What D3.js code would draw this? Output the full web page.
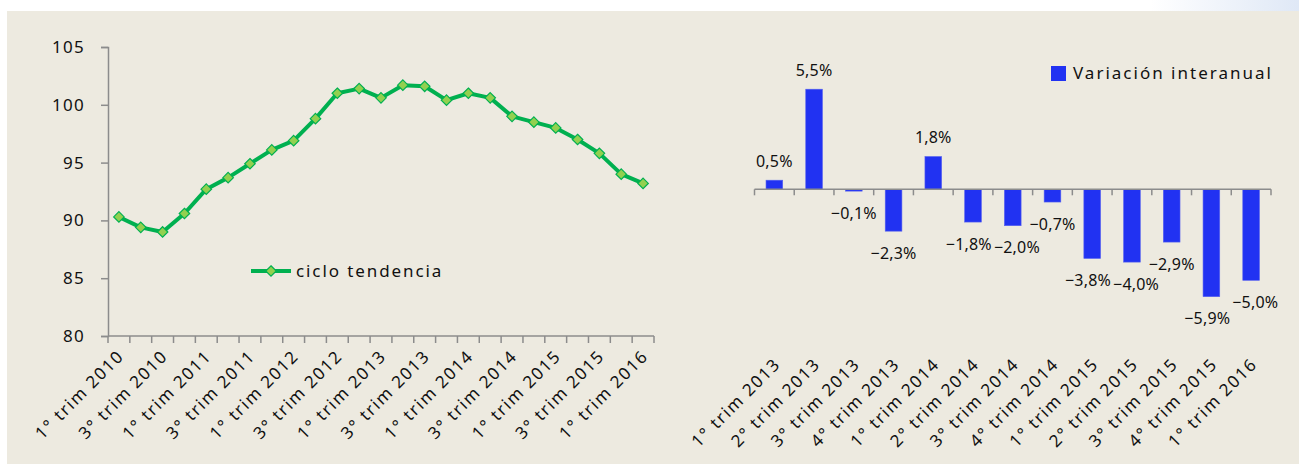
<!DOCTYPE html>
<html lang="es">
<head>
<meta charset="utf-8">
<title>Ciclo tendencia y variación interanual</title>
<script src="https://cdn.jsdelivr.net/npm/d3@7"></script>
<style>
  html, body { margin: 0; padding: 0; background: #fff; overflow: hidden; }
  svg text { font-family: "Noto Sans", sans-serif; fill: #111; }
</style>
</head>
<body>
<svg id="chart" width="1299" height="464"></svg>
<script>
// left chart: índice ciclo tendencia
const trendQuarters = [
  "1° trim 2010", "2° trim 2010", "3° trim 2010", "4° trim 2010",
  "1° trim 2011", "2° trim 2011", "3° trim 2011", "4° trim 2011",
  "1° trim 2012", "2° trim 2012", "3° trim 2012", "4° trim 2012",
  "1° trim 2013", "2° trim 2013", "3° trim 2013", "4° trim 2013",
  "1° trim 2014", "2° trim 2014", "3° trim 2014", "4° trim 2014",
  "1° trim 2015", "2° trim 2015", "3° trim 2015", "4° trim 2015",
  "1° trim 2016"
];
const trendValues = [
  90.3, 89.4, 89.0, 90.6, 92.7, 93.7, 94.9, 96.1, 96.9, 98.8,
  101.0, 101.4, 100.6, 101.7, 101.6, 100.4, 101.0, 100.6, 99.0, 98.5,
  98.0, 97.0, 95.8, 94.0, 93.2
];
const trendTicks = [80, 85, 90, 95, 100, 105];

// right chart: variación interanual (%)
const varQuarters = [
  "1° trim 2013", "2° trim 2013", "3° trim 2013", "4° trim 2013",
  "1° trim 2014", "2° trim 2014", "3° trim 2014", "4° trim 2014",
  "1° trim 2015", "2° trim 2015", "3° trim 2015", "4° trim 2015",
  "1° trim 2016"
];
const varValues = [0.5, 5.5, -0.1, -2.3, 1.8, -1.8, -2.0, -0.7, -3.8, -4.0, -2.9, -5.9, -5.0];

const svg = d3.select("#chart");
const axisColor = "#8c8c8c";
const lineGreen = "#00b050";
const markerGreen = "#92d050";
const barBlue = "#2132f2";

// background panel
const defs = svg.append("defs");
const glow = defs.append("linearGradient").attr("id", "glow").attr("x1", "0").attr("x2", "1");
glow.append("stop").attr("offset", "0").attr("stop-color", "#fff");
glow.append("stop").attr("offset", "1").attr("stop-color", "#dfe8f6");
svg.append("rect").attr("x", 1150).attr("y", 0).attr("width", 149).attr("height", 11).attr("fill", "url(#glow)");
svg.append("rect").attr("x", 7).attr("y", 11).attr("width", 1292).attr("height", 453).attr("fill", "#edeae0");

// ---------- left chart ----------
const x1 = d3.scaleBand().domain(trendQuarters).range([108, 654]);
const y1 = d3.scaleLinear().domain([80, 105]).range([336, 47]);

const yAxis1 = svg.append("g")
  .attr("transform", "translate(108,0)")
  .call(d3.axisLeft(y1).tickValues(trendTicks).tickSize(7).tickPadding(16));
yAxis1.selectAll("path, line").attr("stroke", axisColor).attr("stroke-width", 1.5);
yAxis1.selectAll("text")
  .style("font-size", "17px").style("letter-spacing", "1.3px").attr("fill", "#111");

const xAxis1 = svg.append("g").attr("transform", "translate(0,336)");
xAxis1.append("line").attr("x1", 108).attr("x2", 654).attr("stroke", axisColor).attr("stroke-width", 1.5);
const bounds1 = trendQuarters.map(d => x1(d)).concat([x1.range()[1]]);
xAxis1.selectAll(".tk").data(bounds1).join("line")
  .attr("x1", d => d).attr("x2", d => d).attr("y1", 0).attr("y2", 7)
  .attr("stroke", axisColor).attr("stroke-width", 1.5);
xAxis1.selectAll(".lbl").data(trendQuarters.filter((d, i) => i % 2 === 0)).join("text")
  .attr("text-anchor", "end")
  .attr("transform", d => `translate(${x1(d) + x1.bandwidth() / 2 + 2},17) rotate(-45)`)
  .attr("dy", "0.35em")
  .style("font-size", "17px").style("letter-spacing", "1.6px")
  .text(d => d);

const line1 = d3.line()
  .x((d, i) => x1(trendQuarters[i]) + x1.bandwidth() / 2)
  .y(d => y1(d));
svg.append("path").datum(trendValues)
  .attr("d", line1).attr("fill", "none")
  .attr("stroke", lineGreen).attr("stroke-width", 4).attr("stroke-linejoin", "round");

const diamond = d3.symbol().type(d3.symbolDiamond2).size(70);
svg.selectAll(".mk").data(trendValues).join("path")
  .attr("d", diamond)
  .attr("transform", (d, i) => `translate(${x1(trendQuarters[i]) + x1.bandwidth() / 2},${y1(d)})`)
  .attr("fill", markerGreen).attr("stroke", lineGreen).attr("stroke-width", 1.2);

// legend left
const leg1 = svg.append("g").attr("transform", "translate(251,271)");
leg1.append("line").attr("x1", 0).attr("x2", 40).attr("stroke", lineGreen).attr("stroke-width", 4);
leg1.append("path").attr("d", diamond).attr("transform", "translate(20,0)")
  .attr("fill", markerGreen).attr("stroke", lineGreen).attr("stroke-width", 1.2);
leg1.append("text").attr("x", 45).attr("dy", "0.35em")
  .style("font-size", "17px").style("letter-spacing", "1.9px").text("ciclo tendencia");

// ---------- right chart ----------
const x2 = d3.scaleBand().domain(varQuarters).range([754.5, 1271]).paddingInner(0.58).paddingOuter(0.29);
const y2 = d3.scaleLinear().domain([-6, 6]).range([298.5, 80.1]);

svg.selectAll(".bar").data(varValues).join("rect")
  .attr("x", (d, i) => x2(varQuarters[i]))
  .attr("y", d => y2(Math.max(0, d)))
  .attr("width", x2.bandwidth())
  .attr("height", d => Math.abs(y2(d) - y2(0)))
  .attr("fill", barBlue).attr("stroke", "#5560f0").attr("stroke-width", 0.6);

const step2 = x2.step();
const off2 = step2 * x2.paddingOuter();
const bounds2 = varQuarters.map(d => x2(d) - off2).concat([x2.range()[1]]);
const xAxis2 = svg.append("g").attr("transform", `translate(0,${y2(0)})`);
xAxis2.append("line").attr("x1", 754.5).attr("x2", 1271).attr("stroke", axisColor).attr("stroke-width", 1.5);
xAxis2.selectAll(".tk").data(bounds2).join("line")
  .attr("x1", d => d).attr("x2", d => d).attr("y1", 0).attr("y2", 6)
  .attr("stroke", axisColor).attr("stroke-width", 1.5);

const valLabels = svg.selectAll(".val").data(varValues).join("text")
  .attr("class", "val")
  .attr("x", (d, i) => x2(varQuarters[i]) + x2.bandwidth() / 2)
  .attr("y", d => d >= 0 ? y2(d) - 19 : y2(d) + 22)
  .attr("dy", "0.35em").attr("text-anchor", "middle")
  .style("font-size", "16px").style("letter-spacing", "0.2px")
  .text(d => (d < 0 ? "−" : "") + d3.format(".1f")(Math.abs(d)).replace(".", ",") + "%");

// push apart neighbouring value labels that collide
const nodes = valLabels.nodes();
for (let i = 0; i < nodes.length - 1; i++) {
  const a = nodes[i].getBBox(), b = nodes[i + 1].getBBox();
  const overlapX = a.x + a.width + 2 - b.x;
  const overlapY = Math.min(a.y + a.height, b.y + b.height) - Math.max(a.y, b.y);
  if (overlapX > 0 && overlapY > 2) {
    d3.select(nodes[i]).attr("x", +nodes[i].getAttribute("x") - overlapX / 2);
    d3.select(nodes[i + 1]).attr("x", +nodes[i + 1].getAttribute("x") + overlapX / 2);
  }
}

svg.selectAll(".lbl2").data(varQuarters).join("text")
  .attr("text-anchor", "end")
  .attr("transform", d => `translate(${x2(d) + x2.bandwidth() / 2 + 3},361) rotate(-45)`)
  .attr("dy", "0.35em")
  .style("font-size", "17px").style("letter-spacing", "1.6px")
  .text(d => d);

// legend right
svg.append("rect").attr("x", 1051).attr("y", 66).attr("width", 15).attr("height", 15).attr("fill", barBlue);
svg.append("text").attr("x", 1073).attr("y", 73.5).attr("dy", "0.35em")
  .style("font-size", "17px").style("letter-spacing", "2px").text("Variación interanual");
</script>
</body>
</html>
